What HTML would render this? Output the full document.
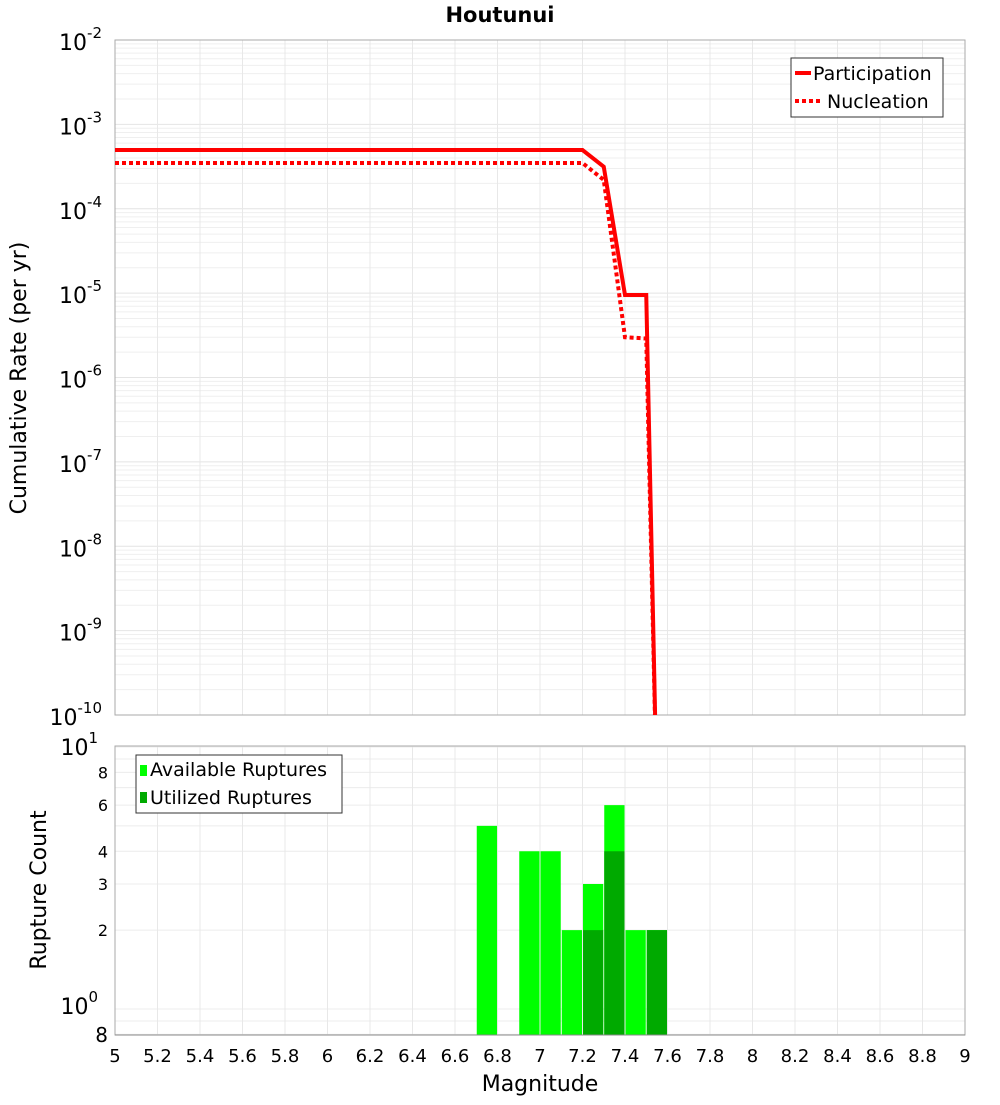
<!DOCTYPE html>
<html><head><meta charset="utf-8"><style>
body{margin:0;background:#fff;font-family:"Liberation Sans","DejaVu Sans",sans-serif}
svg text{font-family:"DejaVu Sans","Liberation Sans",sans-serif}
</style></head><body>
<svg id="c" width="1000" height="1100" xmlns="http://www.w3.org/2000/svg"></svg>
<script>
const partMags=[5,7.2,7.3,7.4,7.5,7.55];
const partRates=[4.97e-4,4.97e-4,3.15e-4,9.5e-6,9.5e-6,1e-11];
const nuclMags=[5,7.2,7.3,7.4,7.5,7.55];
const nuclRates=[3.48e-4,3.48e-4,2.2e-4,3.0e-6,2.9e-6,1e-11];
const binMags=[6.75,6.95,7.05,7.15,7.25,7.35,7.45,7.55];
const availCounts=[5,4,4,2,3,6,2,2];
const usedCounts=[0,0,0,0,2,4,0,2];
const xTicks=[5,5.2,5.4,5.6,5.8,6,6.2,6.4,6.6,6.8,7,7.2,7.4,7.6,7.8,8,8.2,8.4,8.6,8.8,9];
const yExps=[-2,-3,-4,-5,-6,-7,-8,-9,-10];

const NS="http://www.w3.org/2000/svg",S=document.getElementById('c');
function el(t,a,p){const e=document.createElementNS(NS,t);for(const k in a)e.setAttribute(k,a[k]);(p||S).appendChild(e);return e;}
const X0=115,X1=965;
const x=m=>X0+(m-5)/4*(X1-X0);
const T0=40,T1=715;
const yT=v=>T0+(-2-Math.log10(v))/8*(T1-T0);
const B0=746,B1=1035,DEC=262,BZ=1009;
const yB=v=>Math.max(B0,BZ-Math.log10(v)*DEC);

// title
let t=el('text',{x:500,y:22,'text-anchor':'middle','font-size':21,'font-weight':'bold'});t.textContent='Houtunui';


// top plot grid
const gT=el('g',{});
for(let e=-10;e<-2;e++)for(let k=1;k<10;k++){const yy=yT(k*Math.pow(10,e));el('line',{x1:X0,x2:X1,y1:yy,y2:yy,stroke:k==1?'#e4e4e4':'#efefef','stroke-width':1},gT);}
xTicks.forEach(m=>el('line',{x1:x(m),x2:x(m),y1:T0,y2:T1,stroke:'#e8e8e8'},gT));
el('rect',{x:X0,y:T0,width:X1-X0,height:T1-T0,fill:'none',stroke:'#aaa'});
// y tick labels
yExps.forEach(e=>{const yy=yT(Math.pow(10,e));const tx=el('text',{x:102,y:yy+10,'text-anchor':'end','font-size':22});

tx.textContent='10';const s=el('tspan',{dy:-12,'font-size':15},tx);s.textContent=String(e);});
t=el('text',{x:0,y:0,transform:'translate(26,378) rotate(-90)','text-anchor':'middle','font-size':22});t.textContent='Cumulative Rate (per yr)';


// clip
const defs=el('defs',{});const cp=el('clipPath',{id:'cpT'},defs);el('rect',{x:X0,y:T0,width:X1-X0,height:T1-T0},cp);
const pts=(ms,rs)=>ms.map((m,i)=>x(m)+','+yT(rs[i])).join(' ');
let l=el('polyline',{points:pts(nuclMags,nuclRates),fill:'none',stroke:'#f00','stroke-width':4,'stroke-dasharray':'4,3','clip-path':'url(#cpT)'});

l=el('polyline',{points:pts(partMags,partRates),fill:'none',stroke:'#f00','stroke-width':4,'clip-path':'url(#cpT)'});

// legend top
const lg=el('g',{});
el('rect',{x:791,y:58,width:152,height:59,fill:'#fff',stroke:'#333'},lg);
el('line',{x1:795,x2:811,y1:73,y2:73,stroke:'#f00','stroke-width':4},lg);
el('line',{x1:795,x2:822,y1:101,y2:101,stroke:'#f00','stroke-width':4,'stroke-dasharray':'4,3'},lg);
t=el('text',{x:813,y:80,'font-size':19},lg);t.textContent='Participation';
t=el('text',{x:827,y:108,'font-size':19},lg);t.textContent='Nucleation';

// bottom grid
const gB=el('g',{});
[0.8,0.9,1,2,3,4,5,6,7,8,9,10].forEach(v=>el('line',{x1:X0,x2:X1,y1:yB(v),y2:yB(v),stroke:'#ececec'},gB));
xTicks.forEach(m=>el('line',{x1:x(m),x2:x(m),y1:B0,y2:B1,stroke:'#e8e8e8'},gB));
el('rect',{x:X0,y:B0,width:X1-X0,height:B1-B0,fill:'none',stroke:'#aaa'});
// bars
const bw=(X1-X0)/40;
binMags.forEach((m,i)=>{
 let r=el('rect',{x:x(m)-bw/2+0.5,y:yB(availCounts[i]),width:bw-1,height:B1-yB(availCounts[i]),fill:'#00ff00'});
 
 if(usedCounts[i]>0){r=el('rect',{x:x(m)-bw/2+0.5,y:yB(usedCounts[i]),width:bw-1,height:B1-yB(usedCounts[i]),fill:'#00aa00'});
 }
});
el('line',{x1:X0,x2:X1,y1:B1,y2:B1,stroke:'#888'});
// bottom y ticks
[[2,'2'],[3,'3'],[4,'4'],[6,'6'],[8,'8']].forEach(([v,s])=>{t=el('text',{x:108,y:yB(v)+6,'text-anchor':'end','font-size':16});t.textContent=s;
});
t=el('text',{x:108,y:1042,'text-anchor':'end','font-size':20});t.textContent='8';
[[1,1014],[10,755]].forEach(([v,yy],i)=>{t=el('text',{x:98,y:yy,'text-anchor':'end','font-size':22});t.textContent='10';

const s=el('tspan',{dy:-12,'font-size':15},t);s.textContent=i?'1':'0';});
t=el('text',{x:0,y:0,transform:'translate(46,890) rotate(-90)','text-anchor':'middle','font-size':22});t.textContent='Rupture Count';

// bottom legend
const lb=el('g',{});
el('rect',{x:136,y:755,width:206,height:58,fill:'#fff',stroke:'#333'},lb);
el('rect',{x:140,y:765,width:7,height:11,fill:'#00ff00'},lb);
el('rect',{x:140,y:792,width:7,height:11,fill:'#00aa00'},lb);
t=el('text',{x:150,y:776,'font-size':19},lb);t.textContent='Available Ruptures';
t=el('text',{x:150,y:804,'font-size':19},lb);t.textContent='Utilized Ruptures';
// x ticks
xTicks.forEach(m=>{t=el('text',{x:x(m),y:1062,'text-anchor':'middle','font-size':18});t.textContent=String(m);
});
t=el('text',{x:540,y:1091,'text-anchor':'middle','font-size':22});t.textContent='Magnitude';

</script>
</body></html>
